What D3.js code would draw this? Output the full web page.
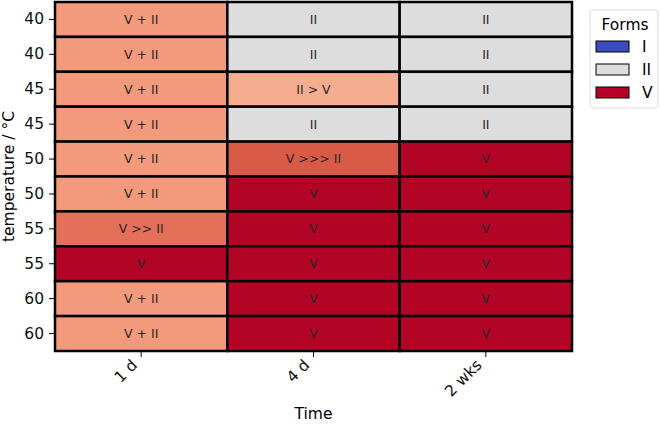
<!DOCTYPE html>
<html>
<head>
<meta charset="utf-8">
<script src="https://cdn.jsdelivr.net/npm/d3@7"></script>
<style>
  body { margin: 0; background: #fff; }
  text { font-family: "DejaVu Sans", sans-serif; }
</style>
</head>
<body>
<div id="chart"></div>
<script>
// rows (temperature) and columns (time)
var temps = ["40", "40", "45", "45", "50", "50", "55", "55", "60", "60"];
var times = ["1 d", "4 d", "2 wks"];

// observed form per cell, row by row
var day1  = ["V + II", "V + II", "V + II", "V + II", "V + II", "V + II", "V >> II", "V", "V + II", "V + II"];
var day4  = ["II", "II", "II > V", "II", "V >>> II", "V", "V", "V", "V", "V"];
var week2 = ["II", "II", "II", "II", "V", "V", "V", "V", "V", "V"];

var legendForms = ["I", "II", "V"];

// colour per outcome (coolwarm-like)
var fillFor = {
  "I": "#3b4cc0",
  "II": "#dddddd",
  "II > V": "#f6ad8f",
  "V + II": "#f39a7c",
  "V >> II": "#e4705a",
  "V >>> II": "#da5a48",
  "V": "#b40426"
};

var svgwidth = 661, svgheight = 426,
    margin = {top: 2, right: 89, bottom: 75, left: 55};
var width = svgwidth - margin.left - margin.right,
    height = svgheight - margin.top - margin.bottom;
var fs = "15.5px";

var svg = d3.select("#chart").append("svg")
    .attr("width", svgwidth)
    .attr("height", svgheight);
var g = svg.append("g").attr("transform", "translate(" + margin.left + "," + margin.top + ")");

var x = d3.scaleBand().domain(times).range([0, width]);
var y = d3.scaleBand().domain(d3.range(temps.length)).range([0, height]);

var cells = [];
[day1, day4, week2].forEach(function(col, j) {
  col.forEach(function(v, i) {
    cells.push({row: i, time: times[j], value: v});
  });
});

g.selectAll(".cell")
  .data(cells)
  .enter().append("rect")
    .attr("class", "cell")
    .attr("x", function(d) { return x(d.time); })
    .attr("y", function(d) { return y(d.row); })
    .attr("width", x.bandwidth())
    .attr("height", y.bandwidth())
    .style("fill", function(d) { return fillFor[d.value]; })
    .style("stroke", "#000")
    .style("stroke-width", 2.5);

g.selectAll(".lab")
  .data(cells)
  .enter().append("text")
    .attr("class", "lab")
    .attr("x", function(d) { return x(d.time) + x.bandwidth() / 2; })
    .attr("y", function(d) { return y(d.row) + y.bandwidth() / 2; })
    .attr("dy", "0.35em")
    .attr("text-anchor", "middle")
    .style("font-size", "12.5px")
    .style("fill", "#262626")
    .text(function(d) { return d.value; });

// axes
var yAxis = g.append("g")
    .call(d3.axisLeft(y).tickSize(6).tickPadding(5).tickFormat(function(i) { return temps[i]; }));
yAxis.select(".domain").remove();
yAxis.selectAll("text").style("font-size", fs).style("fill", "#111");

var xAxis = g.append("g")
    .attr("transform", "translate(0," + height + ")")
    .call(d3.axisBottom(x).tickSize(6));
xAxis.select(".domain").remove();
xAxis.selectAll("text")
    .style("font-size", fs)
    .style("fill", "#111")
    .style("text-anchor", "end")
    .attr("x", 0)
    .attr("y", 0)
    .attr("dy", 0)
    .attr("transform", "translate(-3,15) rotate(-45)");

svg.append("text")
    .attr("transform", "rotate(-90)")
    .attr("x", -(margin.top + height / 2))
    .attr("y", 14)
    .attr("text-anchor", "middle")
    .style("font-size", fs)
    .text("temperature / °C");

svg.append("text")
    .attr("x", margin.left + width / 2)
    .attr("y", 419)
    .attr("text-anchor", "middle")
    .style("font-size", fs)
    .text("Time");

// legend
var legend = svg.append("g").attr("transform", "translate(590,10)");
legend.append("rect")
    .attr("width", 68).attr("height", 98)
    .attr("rx", 3)
    .style("fill", "#fff")
    .style("stroke", "#ddd");
legend.append("text")
    .attr("x", 35).attr("y", 20)
    .attr("text-anchor", "middle")
    .style("font-size", fs)
    .text("Forms");
var item = legend.selectAll(".item")
  .data(legendForms)
  .enter().append("g")
    .attr("class", "item")
    .attr("transform", function(d, i) { return "translate(6," + (31 + i * 23) + ")"; });
item.append("rect")
    .attr("width", 33).attr("height", 11)
    .style("fill", function(d) { return fillFor[d]; })
    .style("stroke", "#000")
    .style("stroke-width", 1);
item.append("text")
    .attr("x", 46).attr("y", 6)
    .attr("dy", "0.35em")
    .style("font-size", fs)
    .text(function(d) { return d; });
</script>
</body>
</html>
